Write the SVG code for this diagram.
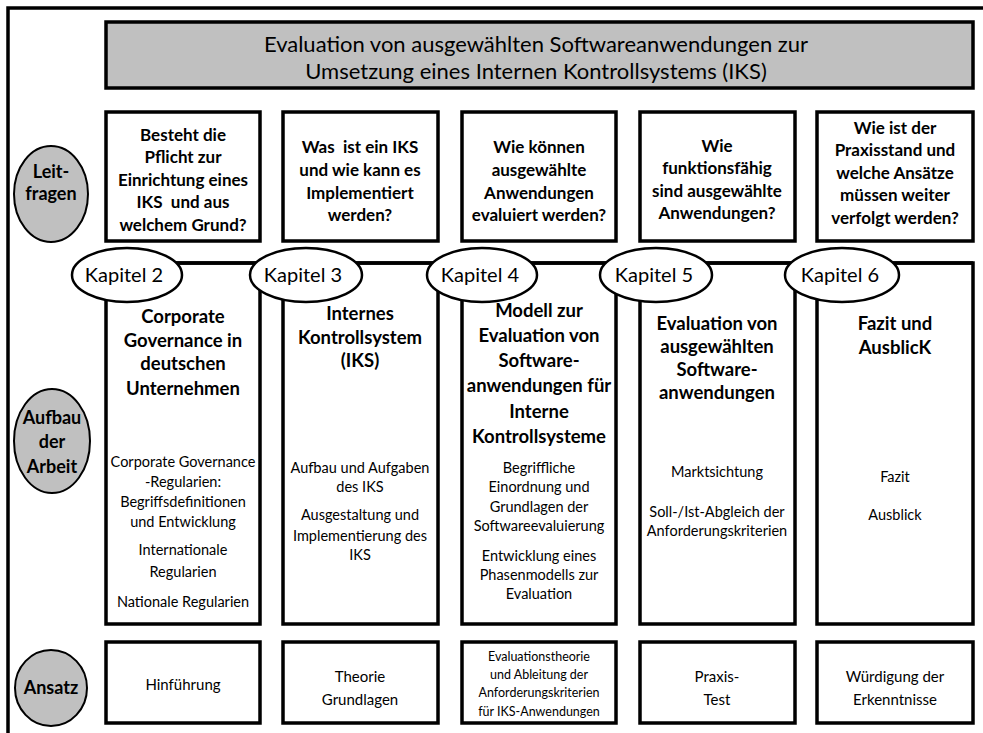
<svg xmlns="http://www.w3.org/2000/svg" width="983" height="733" viewBox="0 0 983 733">
<style>
.box{fill:#fff;stroke:#000;stroke-width:3.5}
.title{fill:#c0c0c0;stroke:#000;stroke-width:3.5}
.gray{fill:#c0c0c0;stroke:#000;stroke-width:2}
.kap{fill:#fff;stroke:#000;stroke-width:2.5}
text{font-family:Lato,"Liberation Sans",sans-serif;fill:#000;text-anchor:middle}
.t{font-size:22px}
.q{font-size:17px;font-weight:bold}
.h{font-size:18.5px;font-weight:bold}
.s{font-size:14.5px}
.b{font-size:15px}
.bs{font-size:12.5px}
.k{font-size:20px}
.l{font-size:18px;font-weight:bold}
</style>
<path d="M8,733 V8 H983" fill="none" stroke="#000" stroke-width="3.5"/>
<g id="title">
<rect class="title" x="106" y="22" width="867" height="66"/>
<text class="t" x="536" y="52">Evaluation von ausgewählten Softwareanwendungen zur</text>
<text class="t" x="536" y="79">Umsetzung eines Internen Kontrollsystems (IKS)</text>
</g>
<g id="label-leitfragen">
<ellipse class="gray" cx="51" cy="194" rx="37" ry="48"/>
<text class="l" x="51" y="178">Leit-</text>
<text class="l" x="51" y="200">fragen</text>
</g>
<g id="label-aufbau">
<ellipse class="gray" cx="52" cy="441" rx="38" ry="52"/>
<text class="l" x="52" y="424">Aufbau</text>
<text class="l" x="52" y="448">der</text>
<text class="l" x="52" y="473">Arbeit</text>
</g>
<g id="label-ansatz">
<ellipse class="gray" cx="51" cy="688" rx="36" ry="38"/>
<text class="l" x="51" y="694">Ansatz</text>
</g>
<g id="q1">
<rect class="box" x="106" y="112" width="154" height="129"/>
<text class="q" x="183" y="141">Besteht die</text>
<text class="q" x="183" y="163">Pflicht zur</text>
<text class="q" x="183" y="186">Einrichtung eines</text>
<text class="q" x="183" y="208">IKS&#160; und aus</text>
<text class="q" x="183" y="231">welchem Grund?</text>
</g>
<g id="q2">
<rect class="box" x="283" y="112" width="155" height="129"/>
<text class="q" x="360" y="153">Was&#160; ist ein IKS</text>
<text class="q" x="360" y="176">und wie kann es</text>
<text class="q" x="360" y="199">Implementiert</text>
<text class="q" x="360" y="221">werden?</text>
</g>
<g id="q3">
<rect class="box" x="462" y="112" width="154" height="129"/>
<text class="q" x="539" y="153">Wie können</text>
<text class="q" x="539" y="176">ausgewählte</text>
<text class="q" x="539" y="199">Anwendungen</text>
<text class="q" x="539" y="221">evaluiert werden?</text>
</g>
<g id="q4">
<rect class="box" x="640" y="112" width="155" height="129"/>
<text class="q" x="717" y="152">Wie</text>
<text class="q" x="717" y="174">funktionsfähig</text>
<text class="q" x="717" y="197">sind ausgewählte</text>
<text class="q" x="717" y="219">Anwendungen?</text>
</g>
<g id="q5">
<rect class="box" x="817" y="112" width="156" height="129"/>
<text class="q" x="895" y="134">Wie ist der</text>
<text class="q" x="895" y="156">Praxisstand und</text>
<text class="q" x="895" y="179">welche Ansätze</text>
<text class="q" x="895" y="201">müssen weiter</text>
<text class="q" x="895" y="224">verfolgt werden?</text>
</g>
<g id="c2">
<rect class="box" x="106" y="263" width="154" height="361"/>
<text class="h" x="183" y="323">Corporate</text>
<text class="h" x="183" y="347">Governance in</text>
<text class="h" x="183" y="370">deutschen</text>
<text class="h" x="183" y="395">Unternehmen</text>
<text class="s" x="183" y="467">Corporate Governance</text>
<text class="s" x="183" y="487">-Regularien:</text>
<text class="s" x="183" y="507">Begriffsdefinitionen</text>
<text class="s" x="183" y="527">und Entwicklung</text>
<text class="s" x="183" y="555">Internationale</text>
<text class="s" x="183" y="577">Regularien</text>
<text class="s" x="183" y="607">Nationale Regularien</text>
</g>
<g id="c3">
<rect class="box" x="283" y="263" width="155" height="361"/>
<text class="h" x="360" y="320">Internes</text>
<text class="h" x="360" y="344">Kontrollsystem</text>
<text class="h" x="360" y="367">(IKS)</text>
<text class="s" x="360" y="473">Aufbau und Aufgaben</text>
<text class="s" x="360" y="492">des IKS</text>
<text class="s" x="360" y="520">Ausgestaltung und</text>
<text class="s" x="360" y="541">Implementierung des</text>
<text class="s" x="360" y="560">IKS</text>
</g>
<g id="c4">
<rect class="box" x="462" y="263" width="154" height="361"/>
<text class="h" x="539" y="317">Modell zur</text>
<text class="h" x="539" y="342">Evaluation von</text>
<text class="h" x="539" y="367">Software-</text>
<text class="h" x="539" y="392">anwendungen für</text>
<text class="h" x="539" y="418">Interne</text>
<text class="h" x="539" y="443">Kontrollsysteme</text>
<text class="s" x="539" y="473">Begriffliche</text>
<text class="s" x="539" y="492">Einordnung und</text>
<text class="s" x="539" y="512">Grundlagen der</text>
<text class="s" x="539" y="531">Softwareevaluierung</text>
<text class="s" x="539" y="561">Entwicklung eines</text>
<text class="s" x="539" y="580">Phasenmodells zur</text>
<text class="s" x="539" y="599">Evaluation</text>
</g>
<g id="c5">
<rect class="box" x="640" y="263" width="155" height="361"/>
<text class="h" x="717" y="330">Evaluation von</text>
<text class="h" x="717" y="353">ausgewählten</text>
<text class="h" x="717" y="376">Software-</text>
<text class="h" x="717" y="399">anwendungen</text>
<text class="s" x="717" y="477">Marktsichtung</text>
<text class="s" x="717" y="517">Soll-/Ist-Abgleich der</text>
<text class="s" x="717" y="536">Anforderungskriterien</text>
</g>
<g id="c6">
<rect class="box" x="817" y="263" width="156" height="361"/>
<text class="h" x="895" y="330">Fazit und</text>
<text class="h" x="895" y="354">AusblicK</text>
<text class="s" x="895" y="482">Fazit</text>
<text class="s" x="895" y="520">Ausblick</text>
</g>
<g id="connectors">
<line x1="127" y1="263" x2="973" y2="263" stroke="#000" stroke-width="3.5"/>
</g>
<g id="k2"><ellipse class="kap" cx="127" cy="275" rx="55" ry="27"/><text class="k" x="124" y="282">Kapitel 2</text></g>
<g id="k3"><ellipse class="kap" cx="306" cy="275" rx="56" ry="27"/><text class="k" x="303" y="282">Kapitel 3</text></g>
<g id="k4"><ellipse class="kap" cx="482" cy="275" rx="55" ry="27"/><text class="k" x="480" y="282">Kapitel 4</text></g>
<g id="k5"><ellipse class="kap" cx="656" cy="275" rx="56" ry="27"/><text class="k" x="654" y="282">Kapitel 5</text></g>
<g id="k6"><ellipse class="kap" cx="842" cy="275" rx="57" ry="27"/><text class="k" x="840" y="282">Kapitel 6</text></g>
<g id="a1">
<rect class="box" x="106" y="642" width="154" height="81"/>
<text class="b" x="183" y="690">Hinführung</text>
</g>
<g id="a2">
<rect class="box" x="283" y="642" width="155" height="81"/>
<text class="b" x="360" y="682">Theorie</text>
<text class="b" x="360" y="705">Grundlagen</text>
</g>
<g id="a3">
<rect class="box" x="462" y="642" width="154" height="81"/>
<text class="bs" x="539" y="661">Evaluationstheorie</text>
<text class="bs" x="539" y="679">und Ableitung der</text>
<text class="bs" x="539" y="697">Anforderungskriterien</text>
<text class="bs" x="539" y="716">für IKS-Anwendungen</text>
</g>
<g id="a4">
<rect class="box" x="640" y="642" width="155" height="81"/>
<text class="b" x="717" y="682">Praxis-</text>
<text class="b" x="717" y="705">Test</text>
</g>
<g id="a5">
<rect class="box" x="817" y="642" width="156" height="81"/>
<text class="b" x="895" y="682">Würdigung der</text>
<text class="b" x="895" y="705">Erkenntnisse</text>
</g>
</svg>
